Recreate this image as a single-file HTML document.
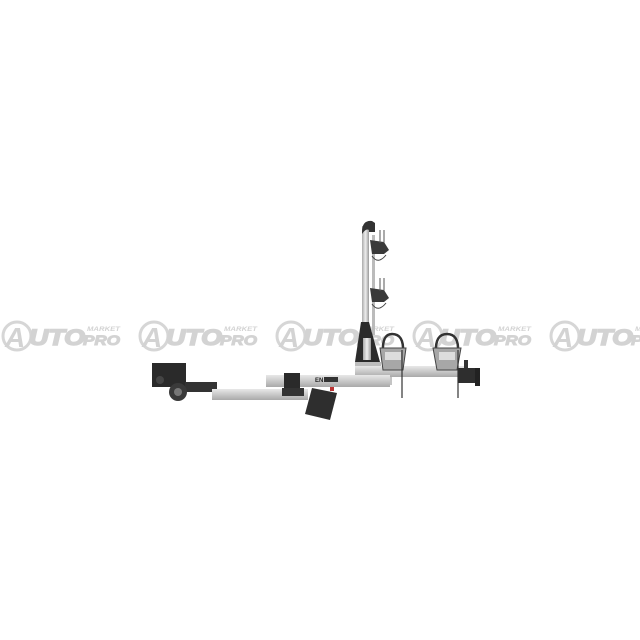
<!DOCTYPE html>
<html><head><meta charset="utf-8"><style>
html,body{margin:0;padding:0;background:#fff;width:640px;height:640px;overflow:hidden}
</style></head><body>
<svg width="640" height="640" viewBox="0 0 640 640" xmlns="http://www.w3.org/2000/svg">
<defs>
<linearGradient id="al" x1="0" y1="0" x2="0" y2="1">
<stop offset="0" stop-color="#e8e8e8"/><stop offset="0.5" stop-color="#c9c9c9"/><stop offset="1" stop-color="#a9a9a9"/></linearGradient>
<linearGradient id="alv" x1="0" y1="0" x2="1" y2="0">
<stop offset="0" stop-color="#aaa"/><stop offset="0.5" stop-color="#eee"/><stop offset="1" stop-color="#999"/></linearGradient>
<g id="wm">
<circle cx="17" cy="16" r="14" fill="none" stroke="#d6d6d6" stroke-width="3"/>
<text x="5" y="27" font-family="Liberation Sans,sans-serif" font-weight="bold" font-style="italic" font-size="28" fill="#d3d3d3">A</text>
<text x="29" y="25" font-family="Liberation Sans,sans-serif" font-weight="bold" font-style="italic" font-size="22" fill="#d3d3d3" textLength="56" lengthAdjust="spacingAndGlyphs" stroke="#d3d3d3" stroke-width="1.5">UTO</text>
<text x="87" y="11" font-family="Liberation Sans,sans-serif" font-weight="bold" font-style="italic" font-size="6" fill="#d3d3d3" textLength="33" lengthAdjust="spacingAndGlyphs">MARKET</text>
<text x="83" y="25" font-family="Liberation Sans,sans-serif" font-weight="bold" font-style="italic" font-size="14" fill="#d3d3d3" textLength="37" lengthAdjust="spacingAndGlyphs" stroke="#d3d3d3" stroke-width="1">PRO</text>
</g>
</defs>
<!-- watermarks -->
<use href="#wm" x="0" y="320"/>
<use href="#wm" x="137" y="320"/>
<use href="#wm" x="274" y="320"/>
<use href="#wm" x="411" y="320"/>
<use href="#wm" x="548" y="320"/>
<!-- pole -->
<rect x="362" y="226" width="7" height="120" fill="url(#alv)"/>
<rect x="372" y="235" width="3" height="100" fill="#bbb"/>
<path d="M362 232 Q362 220 372 221 L375 223 L375 232 L369 232 L369 230 Q366 228 362 234Z" fill="#333"/>
<path d="M370 240 L384 242 L389 250 L384 254 L372 254Z" fill="#3a3a3a"/>
<line x1="380" y1="230" x2="380" y2="243" stroke="#555"/><line x1="384" y1="230" x2="384" y2="243" stroke="#555"/>
<path d="M372 256 Q378 265 386 255" fill="none" stroke="#444"/>
<path d="M370 288 L384 290 L389 298 L384 302 L372 302Z" fill="#3a3a3a"/>
<line x1="380" y1="278" x2="380" y2="291" stroke="#555"/><line x1="384" y1="278" x2="384" y2="291" stroke="#555"/>
<path d="M372 304 Q378 313 386 303" fill="none" stroke="#444"/>
<!-- base -->
<path d="M361 322 L369 322 L380 362 L355 362Z" fill="#2b2b2b"/>
<rect x="363" y="338" width="8" height="22" fill="url(#alv)"/>
<rect x="355" y="362" width="26" height="6" fill="#bdbdbd"/>
<!-- right bar -->
<rect x="355" y="366" width="110" height="11" fill="url(#al)"/>
<rect x="340" y="377" width="52" height="8" fill="#c4c4c4"/>
<rect x="458" y="368" width="20" height="15" fill="#2e2e2e"/>
<rect x="475" y="368" width="5" height="18" fill="#222"/>
<rect x="464" y="360" width="4" height="8" fill="#333"/>
<!-- cradles -->
<path d="M383 352 Q382 334 392 334 Q404 334 403 352" fill="none" stroke="#333" stroke-width="2.5"/>
<path d="M380 348 L406 348 L403 370 L383 370Z" fill="#a7a7a7" stroke="#444"/>
<rect x="385" y="352" width="16" height="8" fill="#ddd"/>
<path d="M436 352 Q435 334 447 334 Q459 334 458 352" fill="none" stroke="#333" stroke-width="2.5"/>
<path d="M433 348 L461 348 L457 370 L437 370Z" fill="#a7a7a7" stroke="#444"/>
<rect x="439" y="352" width="16" height="8" fill="#ddd"/>
<line x1="402" y1="350" x2="402" y2="398" stroke="#333" stroke-width="1.2"/>
<line x1="458" y1="350" x2="458" y2="398" stroke="#333" stroke-width="1.2"/>
<!-- upper bar -->
<rect x="266" y="375" width="124" height="12" fill="url(#al)"/>
<rect x="284" y="373" width="16" height="16" fill="#2a2a2a"/>
<text x="315" y="382" font-family="Liberation Sans,sans-serif" font-weight="bold" font-size="6" fill="#222">EN</text>
<rect x="324" y="377" width="14" height="5" fill="#333"/>
<!-- left mount -->
<rect x="152" y="363" width="34" height="24" fill="#2a2a2a"/>
<circle cx="160" cy="380" r="4" fill="#444"/>
<rect x="185" y="382" width="32" height="10" fill="#333"/>
<!-- lower bar -->
<rect x="212" y="389" width="96" height="11" fill="url(#al)"/>
<rect x="282" y="388" width="22" height="8" fill="#333"/>
<circle cx="178" cy="392" r="9" fill="#3a3a3a"/>
<circle cx="178" cy="392" r="4" fill="#777"/>
<!-- tail light -->
<path d="M312 388 L337 393 L330 420 L305 414Z" fill="#2e2e2e"/>
<rect x="330" y="387" width="4" height="4" fill="#b33"/>
</svg>
</body></html>
